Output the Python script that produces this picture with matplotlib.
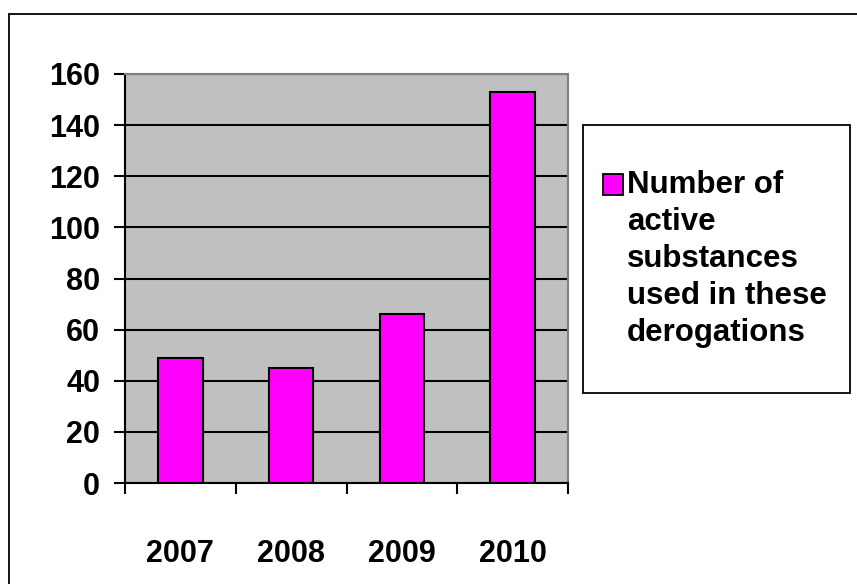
import numpy as np
import matplotlib
matplotlib.use('Agg')
from matplotlib import pyplot as plt
from matplotlib.patches import Rectangle

plt.rcParams['font.family'] = ['Liberation Sans', 'DejaVu Sans']
plt.rcParams['font.weight'] = 'bold'

# data
years = ['2007', '2008', '2009', '2010']
active_substances = [49, 45, 66, 153]
series_label = 'Number of\nactive\nsubstances\nused in these\nderogations'
y_ticks = [0, 20, 40, 60, 80, 100, 120, 140, 160]

fig = plt.figure(figsize=(8.57, 5.84), dpi=100)
ax = fig.add_axes([0.1459, 0.1729, 0.6628 - 0.1459, 0.8733 - 0.1729])
ax.set_facecolor('#C0C0C0')

x = np.arange(len(years))
ax.bar(x, active_substances, width=0.4, color='#FF00FF',
       edgecolor='black', linewidth=1.5, zorder=3)

ax.set_xlim(-0.5, len(years) - 0.5)
ax.set_ylim(0, 160)
ax.set_yticks(y_ticks)
ax.yaxis.grid(True, color='black', linewidth=1.5)
ax.set_axisbelow(True)

# ticks at category boundaries, labels at the centres
ax.set_xticks(np.arange(len(years) + 1) - 0.5)
ax.set_xticklabels([])
ax.set_xticks(x, minor=True)
ax.set_xticklabels(years, minor=True)
ax.tick_params(axis='x', which='major', direction='out', length=8, width=1.5)
ax.tick_params(axis='x', which='minor', length=0, pad=40, labelsize=22)
ax.tick_params(axis='y', direction='out', length=8, width=1.5, pad=10,
               labelsize=22)

for side in ['left', 'bottom']:
    ax.spines[side].set_color('black')
    ax.spines[side].set_linewidth(1.5)
for side in ['top', 'right']:
    ax.spines[side].set_color('#808080')
    ax.spines[side].set_linewidth(1.5)

# outer chart frame (runs off the right and bottom of the picture)
fig.patches.append(Rectangle((0.0105, -0.1), 1.2, 0.976 + 0.1, fill=False,
                             edgecolor='black', linewidth=1.3,
                             transform=fig.transFigure, figure=fig))

# legend box
fig.patches.append(Rectangle((0.6803, 0.327), 0.3116, 0.459, fill=False,
                             edgecolor='black', linewidth=1.3,
                             transform=fig.transFigure, figure=fig))
fig.patches.append(Rectangle((0.7036, 0.666), 0.0233, 0.036,
                             facecolor='#FF00FF', edgecolor='black',
                             linewidth=1.3, transform=fig.transFigure,
                             figure=fig))
fig.text(0.7316, 0.709, series_label, fontsize=22.5, fontweight='bold',
         va='top', ha='left', linespacing=1.3)

fig.savefig('out.png', dpi=100)
